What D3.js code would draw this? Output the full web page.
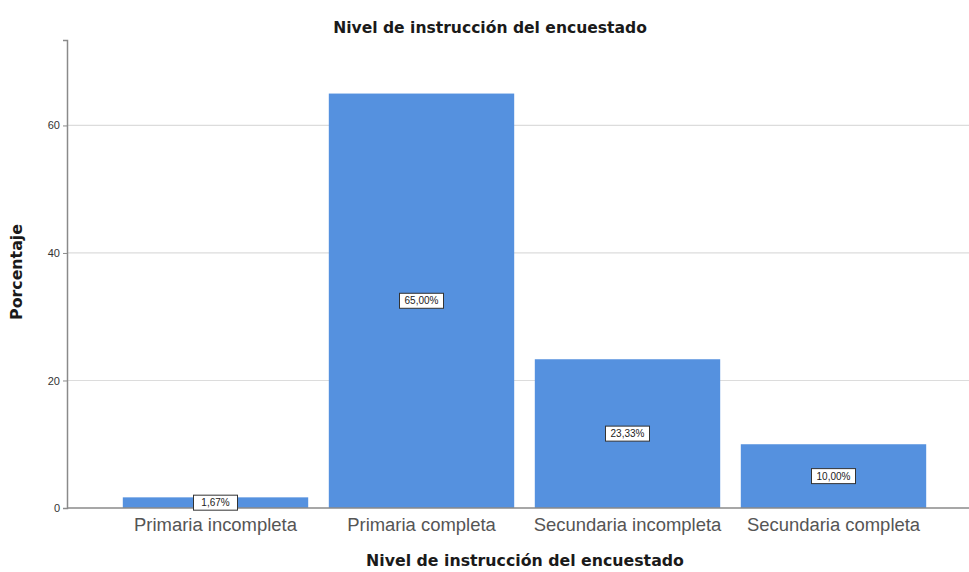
<!DOCTYPE html>
<html><head><meta charset="utf-8">
<script src="https://cdn.jsdelivr.net/npm/d3@7"></script>
<style>body{margin:0;background:#fff}svg{display:block}</style>
</head><body>
<svg id="chart" width="969" height="572"></svg>
<script>
const categories = ["Primaria incompleta", "Primaria completa", "Secundaria incompleta", "Secundaria completa"];
const values = [1.67, 65.00, 23.33, 10.00];
const valueLabels = ["1,67%", "65,00%", "23,33%", "10,00%"];
const yTicks = [0, 20, 40, 60];
const title = "Nivel de instrucción del encuestado";
const xTitle = "Nivel de instrucción del encuestado";
const yTitle = "Porcentaje";

const svg = d3.select("#chart");
const axisX = 67, plotRight = 969;

const x = d3.scaleBand().domain(categories).range([112.5, 936.5]).paddingInner(0.1).paddingOuter(0.05);
const y = d3.scaleLinear().domain([0, 73.4]).range([508, 40]);

function fit(sel, target) {
  const n = sel.node();
  const fs = parseFloat(sel.attr("font-size"));
  const w = n.getComputedTextLength();
  sel.attr("font-size", (fs * target / w).toFixed(2));
}

// gridlines
svg.append("g").selectAll("line").data(yTicks.filter(d => d > 0)).join("line")
  .attr("x1", axisX).attr("x2", plotRight)
  .attr("y1", d => y(d)).attr("y2", d => y(d))
  .attr("stroke", "#dcdcdc").attr("stroke-width", 1.2);

// bars
svg.append("g").selectAll("rect").data(values).join("rect")
  .attr("x", (d, i) => x(categories[i]))
  .attr("width", x.bandwidth())
  .attr("y", d => y(d))
  .attr("height", d => y(0) - y(d))
  .attr("fill", "#5591df");

// baseline
svg.append("line").attr("x1", axisX).attr("x2", plotRight).attr("y1", y(0)).attr("y2", y(0))
  .attr("stroke", "#8a8a8a").attr("stroke-width", 1.3);

// y axis
const yAxis = d3.axisLeft(y).tickValues(yTicks).tickSize(4).tickFormat(d3.format("d"));
const gy = svg.append("g").attr("transform", `translate(${axisX},0)`).call(yAxis);
gy.select(".domain").attr("stroke", "#8a8a8a").attr("stroke-width", 1.5);
gy.selectAll(".tick line").attr("stroke", "#8a8a8a");
gy.selectAll(".tick text").attr("font-family", "Liberation Sans, Arial, sans-serif").attr("font-size", 11).attr("fill", "#333").attr("x", -7);

// category labels
const xl = svg.append("g").selectAll("text").data(categories).join("text")
  .attr("x", d => x(d) + x.bandwidth() / 2)
  .attr("y", 531)
  .attr("text-anchor", "middle")
  .attr("font-family", "Liberation Sans, Arial, sans-serif")
  .attr("font-size", 16)
  .attr("fill", "#555")
  .text(d => d);
fit(d3.select(xl.nodes()[0]), 163);
const catFs = d3.select(xl.nodes()[0]).attr("font-size");
xl.attr("font-size", catFs);

// value labels
const lg = svg.append("g").selectAll("g").data(values).join("g")
  .attr("transform", (d, i) => `translate(${x(categories[i]) + x.bandwidth() / 2},${(y(d) + y(0)) / 2})`);
lg.append("rect").attr("x", -22).attr("y", -7.5).attr("width", 44).attr("height", 15)
  .attr("fill", "#fff").attr("stroke", "#333").attr("stroke-width", 1);
lg.append("text").attr("text-anchor", "middle").attr("y", 3.5)
  .attr("font-family", "Liberation Sans, Arial, sans-serif").attr("font-size", 10).attr("fill", "#222")
  .text((d, i) => valueLabels[i]);

// title
const t = svg.append("text").attr("x", 490).attr("y", 33).attr("text-anchor", "middle")
  .attr("font-family", "DejaVu Sans, Verdana, sans-serif").attr("font-weight", "bold").attr("font-size", 13)
  .attr("fill", "#1a1a1a").text(title);
fit(t, 314);

const xt = svg.append("text").attr("x", 525).attr("y", 566).attr("text-anchor", "middle")
  .attr("font-family", "DejaVu Sans, Verdana, sans-serif").attr("font-weight", "bold").attr("font-size", 13)
  .attr("fill", "#1a1a1a").text(xTitle);
fit(xt, 318);

const yt = svg.append("text").attr("transform", "translate(22,272) rotate(-90)").attr("text-anchor", "middle")
  .attr("font-family", "DejaVu Sans, Verdana, sans-serif").attr("font-weight", "bold").attr("font-size", 13)
  .attr("fill", "#1a1a1a").text(yTitle);
fit(yt, 96);
</script>
</body></html>
